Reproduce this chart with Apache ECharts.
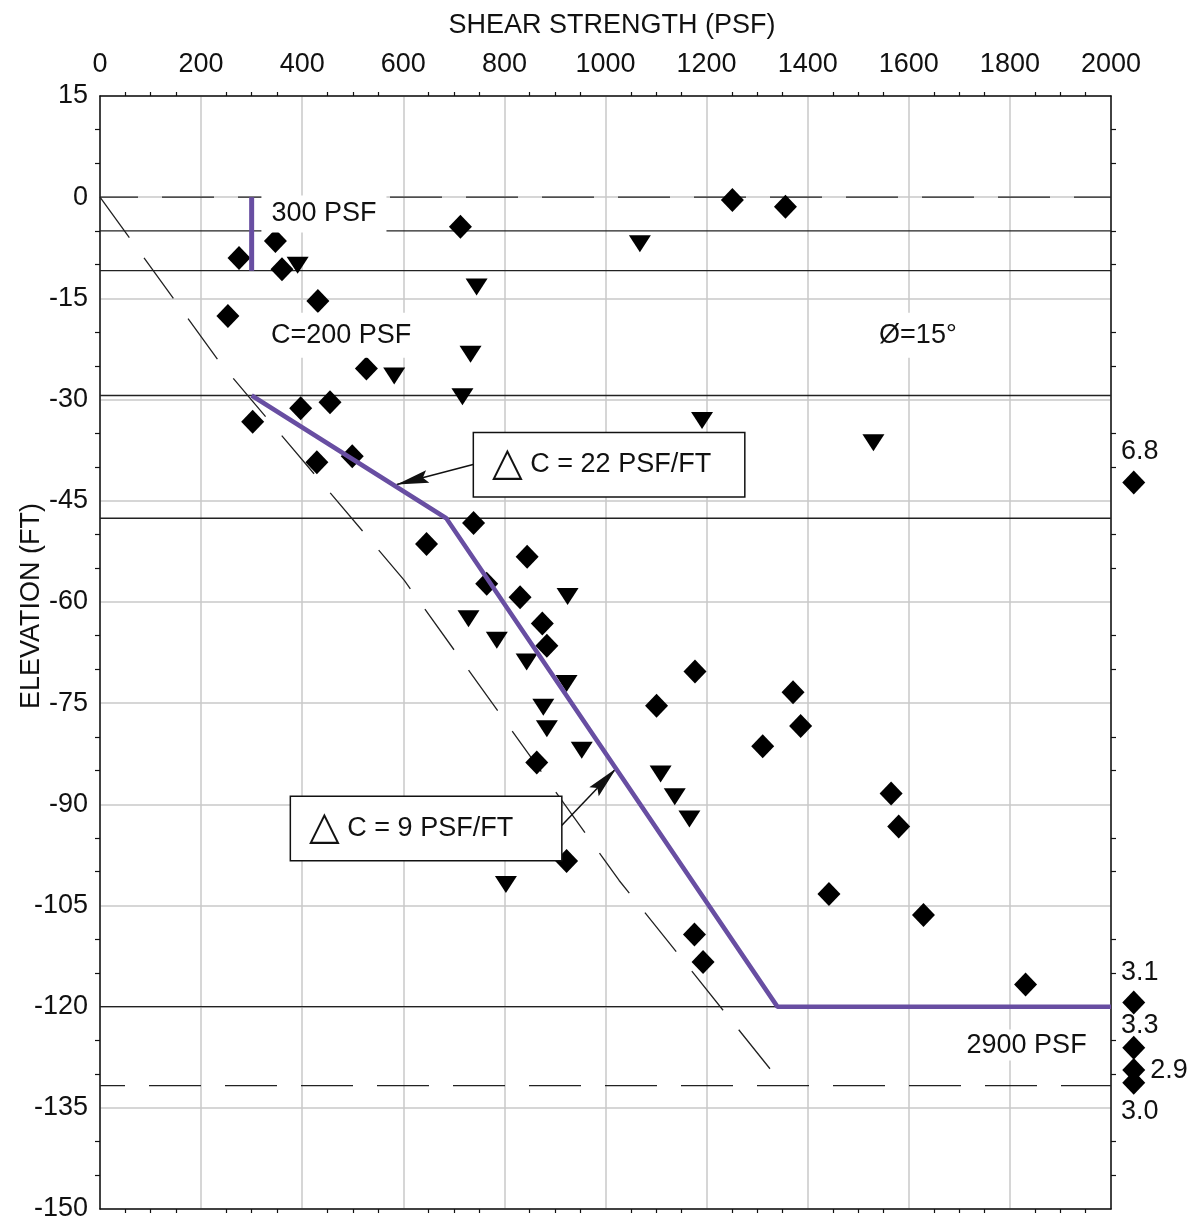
<!DOCTYPE html>
<html><head><meta charset="utf-8">
<script src="https://cdn.jsdelivr.net/npm/echarts@6/dist/echarts.min.js"></script>
<style>html,body{margin:0;padding:0;background:#fff}#c{width:1193px;height:1225px}</style>
</head><body><div id="c"></div>
<script>
// ---------- data ----------
const xTickValues = [0, 200, 400, 600, 800, 1000, 1200, 1400, 1600, 1800, 2000];
const yTickValues = [15, 0, -15, -30, -45, -60, -75, -90, -105, -120, -135, -150];

// shear strength (psf), elevation (ft) - diamond symbols
const diamondPoints = [
  [1251, -0.4], [1356, -1.4], [713, -4.4], [347, -6.5], [275, -9.0], [360, -10.7],
  [431, -15.4], [253, -17.6], [527, -25.4], [455, -30.4], [397, -31.3], [302, -33.3],
  [499, -38.4], [429, -39.3], [739, -48.3], [646, -51.4], [845, -53.3], [765, -57.3],
  [831, -59.3], [875, -63.2], [884, -66.5], [1177, -70.3], [1101, -75.4], [1371, -73.4],
  [1386, -78.4], [1311, -81.4], [864, -83.8], [1565, -88.4], [1580, -93.3], [923, -98.4],
  [1442, -103.3], [1629, -106.4], [1176, -109.3], [1193, -113.4], [1831, -116.7]
];
// triangle (down) symbols
const trianglePoints = [
  [1068, -6.9], [391, -10.1], [745, -13.3], [733, -23.3], [582, -26.5], [717, -29.6],
  [1191, -33.1], [1530, -36.4], [729, -62.5], [785, -65.7], [844, -68.9], [925, -59.2],
  [923, -72.1], [877, -75.6], [884, -78.8], [953, -82.0], [1109, -85.5], [1137, -88.9],
  [1166, -92.2], [803, -101.9]
];
// off-scale values (ksf) plotted just right of the frame
const offScaleElev = [-42.3, -119.4, -126.1, -129.4, -131.3];
const offScaleText = ['6.8', '3.1', '3.3', '2.9', '3.0'];
const offScaleX = 2045;

// design strength profile
const designTop = [[300, 0], [300, -10.9]];
const designProfile = [[300, -29.4], [685, -47.6], [1340, -120], [2000, -120]];
// dashed trend line
const trendLine = [[0, 0], [238, -24.6], [602, -56.8], [1027, -101.3], [1352, -131.7]];
// layer boundaries
const solidBounds = [-5, -10.9, -29.4, -47.6, -120];
const dashedBounds = [0, -131.7];

// annotations (anchor in data units)
const textNotes = [
  { text: '300 PSF', x: 443, y: -2.5, pad: [5, 10, 5, 10] },
  { text: 'C=200 PSF', x: 477, y: -20.46, pad: [9, 6, 9, 6] },
  { text: 'Ø=15°', x: 1618, y: -20.46, pad: [9, 6, 9, 6] },
  { text: '2900 PSF', x: 1833, y: -125.7, pad: [2, 4, 2, 4] }
];
const boxNotes = [
  { text: 'C = 22 PSF/FT', x: 740, y: -39.65 },
  { text: 'C = 9 PSF/FT', x: 378, y: -93.6 }
];
const arrows = [
  [[740, -39.6], [587, -42.6]],
  [[910, -93.4], [1021, -84.7]]
];

// ---------- chart ----------
const FONT = '"Liberation Sans", Arial, sans-serif';
const TXT = '#111';
const AX = '#111';
const chart = echarts.init(document.getElementById('c'), null, { renderer: 'canvas' });

const xMin = xTickValues[0], xMax = xTickValues[xTickValues.length - 1];
const xInt = xTickValues[1] - xTickValues[0];
const yMax = yTickValues[0], yMin = yTickValues[yTickValues.length - 1];
const yInt = yTickValues[0] - yTickValues[1];

function axisBase(extra) {
  return Object.assign({
    type: 'value',
    axisLine: { show: true, onZero: false, lineStyle: { color: AX, width: 1.5 } },
    axisTick: { show: false },
    axisLabel: { show: false },
    splitLine: { show: false }
  }, extra);
}

const hLine = (y, dashed) => ({
  type: 'line', data: [[xMin, y], [xMax, y]], symbol: 'none', silent: true, z: 2,
  lineStyle: dashed
    ? { color: '#222', width: 1.3, type: [52, 24], dashOffset: y === 0 ? 14 : 27, opacity: 1 }
    : { color: '#222', width: 1.3, opacity: 1 }
});

const series = [];
solidBounds.forEach(y => series.push(hLine(y, false)));
dashedBounds.forEach(y => series.push(hLine(y, true)));

series.push({
  type: 'line', data: trendLine, symbol: 'none', silent: true, z: 3,
  lineStyle: { color: '#222', width: 1.3, type: [50, 25] },
  markLine: {
    silent: true, animation: false,
    symbol: ['none', 'path://M0,0M64,64M32,32L38.5,64L32,59L25.5,64Z'],
    symbolSize: 64,
    label: { show: false },
    itemStyle: { color: '#111', opacity: 1 },
    lineStyle: { color: '#111', width: 1.5, type: 'solid', opacity: 1 },
    emphasis: { disabled: true },
    data: arrows.map(a => [{ coord: a[0] }, { coord: a[1] }])
  }
});

series.push({
  type: 'scatter', data: trianglePoints, symbol: 'path://M0,0L22,0L11,17Z',
  symbolSize: [22, 17], itemStyle: { color: '#000', opacity: 1 }, z: 4, silent: true
});
series.push({
  type: 'scatter', data: diamondPoints, symbol: 'diamond',
  symbolSize: [23, 24], itemStyle: { color: '#000', opacity: 1 }, z: 4, silent: true
});

const offPlace = {
  '6.8': { position: 'top', offset: [6, 0] },
  '3.1': { position: 'top', offset: [6, 0] },
  '3.3': { position: 'top', offset: [6, 8] },
  '2.9': { position: 'right', offset: [0, 1] },
  '3.0': { position: 'bottom', offset: [6, -2] }
};
series.push({
  type: 'scatter', clip: false, symbol: 'diamond', symbolSize: [23, 24], z: 4, silent: true,
  itemStyle: { color: '#000', opacity: 1 },
  data: offScaleElev.map((y, i) => ({
    value: [offScaleX, y, offScaleText[i]],
    label: Object.assign({
      show: true, formatter: p => p.value[2], fontSize: 27, color: TXT, fontFamily: FONT, distance: 5
    }, offPlace[offScaleText[i]])
  }))
});

series.push({
  type: 'line', data: designTop, symbol: 'none', silent: true, z: 6,
  lineStyle: { color: '#684ea2', width: 5, opacity: 1 }
});
series.push({
  type: 'line', data: designProfile, symbol: 'none', silent: true, z: 6,
  lineStyle: { color: '#684ea2', width: 4.5, opacity: 1 }
});

series.push({
  type: 'scatter', symbolSize: 0, z: 20, silent: true, itemStyle: { opacity: 1 },
  data: textNotes.map(n => ({
    value: [n.x, n.y],
    label: {
      show: true, position: 'inside', formatter: n.text, fontSize: 27, color: TXT,
      fontFamily: FONT, backgroundColor: '#fff', padding: n.pad, lineHeight: 27
    }
  }))
});
series.push({
  type: 'scatter', symbolSize: 0, z: 20, silent: true, itemStyle: { opacity: 1 },
  data: boxNotes.map(n => ({
    value: [n.x, n.y],
    label: {
      show: true, position: 'inside', formatter: '{t|△} ' + n.text,
      fontSize: 27, lineHeight: 27, color: TXT, fontFamily: FONT,
      backgroundColor: '#fff', borderColor: '#111', borderWidth: 1.5,
      padding: [18, 20, 18, 18], width: 232, align: 'left',
      rich: { t: { fontSize: 40, lineHeight: 27, fontFamily: '"DejaVu Sans", sans-serif', color: TXT } }
    }
  }))
});

const plainNum = v => String(v);

chart.setOption({
  animation: false,
  backgroundColor: '#fff',
  grid: { left: 100, right: 82, top: 96, bottom: 16, containLabel: false, outerBoundsMode: 'none' },
  xAxis: [
    axisBase({
      position: 'top', min: xMin, max: xMax, interval: xInt,
      minorTick: { show: true, splitNumber: 4, length: 4, lineStyle: { color: AX, width: 1.2 } },
      axisLabel: { show: true, fontSize: 27, color: TXT, fontFamily: FONT, margin: 18, formatter: plainNum },
      splitLine: { show: true, lineStyle: { color: '#c8c8c8', width: 1.5 } }
    }),
    axisBase({
      position: 'bottom', min: xMin, max: xMax, interval: xInt,
      minorTick: { show: true, splitNumber: 4, length: 4, lineStyle: { color: AX, width: 1.2 } }
    })
  ],
  yAxis: [
    axisBase({
      position: 'left', min: yMin, max: yMax, interval: yInt,
      minorTick: { show: true, splitNumber: 3, length: 5, lineStyle: { color: AX, width: 1.2 } },
      axisLabel: { show: true, fontSize: 27, color: TXT, fontFamily: FONT, margin: 12, formatter: plainNum },
      splitLine: { show: true, lineStyle: { color: '#c8c8c8', width: 1.5 } }
    }),
    axisBase({
      position: 'right', min: yMin, max: yMax, interval: yInt,
      minorTick: { show: true, splitNumber: 3, length: 5, lineStyle: { color: AX, width: 1.2 } }
    })
  ],
  graphic: [
    { type: 'text', x: 612, y: 26, silent: true,
      style: { text: 'SHEAR STRENGTH (PSF)', fontSize: 27, fontFamily: FONT, fill: TXT, align: 'center', verticalAlign: 'middle' } },
    { type: 'text', x: 32, y: 606, rotation: Math.PI / 2, silent: true,
      style: { text: 'ELEVATION (FT)', fontSize: 27, fontFamily: FONT, fill: TXT, align: 'center', verticalAlign: 'middle' } }
  ],
  series: series
});
</script></body></html>
